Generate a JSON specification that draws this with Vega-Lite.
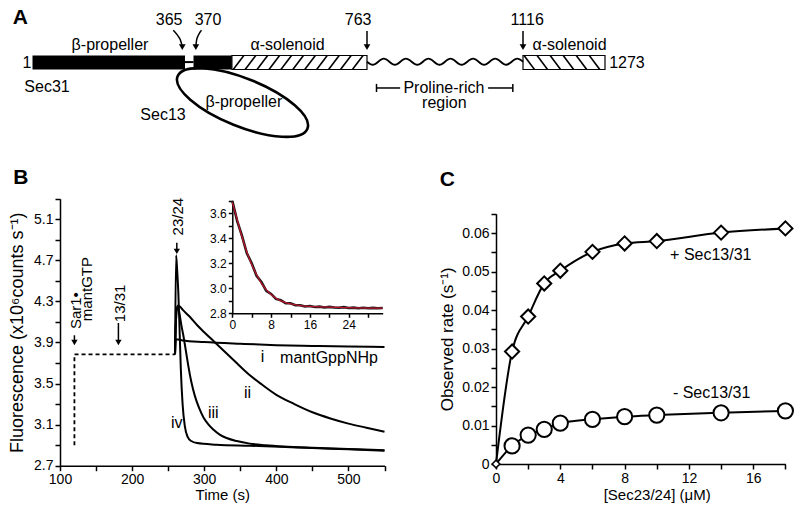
{
"$schema": "https://vega.github.io/schema/vega-lite/v6.json",
"width": 800, "height": 515, "autosize": {"type": "none"}, "padding": 0, "background": "white",
"config": {
  "view": {"stroke": null},
  "font": "Liberation Sans",
  "axis": {"labelFont": "Liberation Sans", "titleFont": "Liberation Sans", "labelColor": "#000", "titleColor": "#000", "domainColor": "#000", "tickColor": "#000", "domainWidth": 1.5, "tickWidth": 1.5, "tickSize": 5, "labelPadding": 2, "titleFontWeight": "normal", "grid": false, "labelFlush": false, "labelOverlap": false, "labelFontSize": 14},
  "text": {"font": "Liberation Sans", "fontSize": 16, "color": "#000"}
},
"datasets": {
  "aBlocks": [{"x": 1, "x2": 365, "y": -0.5, "y2": 0.5}, {"x": 370, "x2": 457, "y": -0.5, "y2": 0.5}],
  "aLink": [{"x": 365, "x2": 370, "y": 0.03}],
  "aHatch": [{"x": 457, "x2": 763, "y": -0.5, "y2": 0.5}, {"x": 1116, "x2": 1273, "y": -0.5, "y2": 0.5}],
  "aSlash": [{"x": 460, "x2": 484, "y": -0.5, "y2": 0.5}, {"x": 487, "x2": 511, "y": -0.5, "y2": 0.5}, {"x": 514, "x2": 538, "y": -0.5, "y2": 0.5}, {"x": 541, "x2": 565, "y": -0.5, "y2": 0.5}, {"x": 568, "x2": 592, "y": -0.5, "y2": 0.5}, {"x": 595, "x2": 619, "y": -0.5, "y2": 0.5}, {"x": 622, "x2": 646, "y": -0.5, "y2": 0.5}, {"x": 649, "x2": 673, "y": -0.5, "y2": 0.5}, {"x": 676, "x2": 700, "y": -0.5, "y2": 0.5}, {"x": 703, "x2": 727, "y": -0.5, "y2": 0.5}, {"x": 730, "x2": 754, "y": -0.5, "y2": 0.5}],
  "aBack": [{"x": 1118, "x2": 1138, "y": 0.5, "y2": -0.5}, {"x": 1143, "x2": 1163, "y": 0.5, "y2": -0.5}, {"x": 1168, "x2": 1188, "y": 0.5, "y2": -0.5}, {"x": 1193, "x2": 1213, "y": 0.5, "y2": -0.5}, {"x": 1218, "x2": 1238, "y": 0.5, "y2": -0.5}, {"x": 1243, "x2": 1263, "y": 0.5, "y2": -0.5}],
  "aWave": [{"x": 763, "y": 0.06}, {"x": 776, "y": -0.16}, {"x": 801, "y": 0.28}, {"x": 826, "y": -0.16}, {"x": 851, "y": 0.28}, {"x": 877, "y": -0.16}, {"x": 902, "y": 0.28}, {"x": 927, "y": -0.16}, {"x": 952, "y": 0.28}, {"x": 977, "y": -0.16}, {"x": 1003, "y": 0.28}, {"x": 1028, "y": -0.16}, {"x": 1053, "y": 0.28}, {"x": 1078, "y": -0.16}, {"x": 1103, "y": 0.28}, {"x": 1116, "y": 0.06}],
  "aArrow": [{"x": 763, "y": 2.25, "y2": 1.15}, {"x": 1116, "y": 2.25, "y2": 1.15}],
  "aCurve": [{"k": "a", "x": 337, "y": 2.3}, {"k": "a", "x": 347, "y": 1.95}, {"k": "a", "x": 354, "y": 1.6}, {"k": "a", "x": 358, "y": 1.2}, {"k": "b", "x": 388, "y": 2.3}, {"k": "b", "x": 381, "y": 1.95}, {"k": "b", "x": 377, "y": 1.6}, {"k": "b", "x": 375.5, "y": 1.2}],
  "aHeads": [{"x": 763, "y": 1.1}, {"x": 1116, "y": 1.1}, {"x": 358.5, "y": 1.1}, {"x": 375.3, "y": 1.1}],
  "aEllipse": [{"x": 481, "y": -2.857}],
  "aBracket": [{"x": 784.5, "x2": 838, "y": -1.82}, {"x": 1037, "x2": 1093, "y": -1.82}],
  "aBracketEnds": [{"x": 784.5, "y": -1.53, "y2": -2.11}, {"x": 1093, "y": -1.53, "y2": -2.11}],
  "aText": [
    {"x": -12, "y": -0.05, "t": "1"},
    {"x": 1315, "y": -0.05, "t": "1273"},
    {"x": 186, "y": 1.25, "t": "β-propeller"},
    {"x": 583, "y": 1.25, "t": "α-solenoid"},
    {"x": 1205, "y": 1.25, "t": "α-solenoid"},
    {"x": 327, "y": 3.04, "t": "365"},
    {"x": 403, "y": 3.04, "t": "370"},
    {"x": 743, "y": 3.04, "t": "763"},
    {"x": 1124, "y": 3.04, "t": "1116"},
    {"x": 35.6, "y": -1.77, "t": "Sec31"},
    {"x": 312.5, "y": -3.75, "t": "Sec13"},
    {"x": 484, "y": -2.84, "t": "β-propeller"},
    {"x": 937, "y": -1.8, "t": "Proline-rich"},
    {"x": 938, "y": -2.9, "t": "region"}
  ],
  "aLetter": [{"x": -28, "y": 3.21, "t": "A"}],
  "bDash": [{"t": 120, "v": 2.9}, {"t": 120, "v": 3.785}, {"t": 259.5, "v": 3.785}],
  "bCurves": [
    {"c": "i", "t": 259.5, "v": 3.785}, {"c": "i", "t": 260.5, "v": 3.93}, {"c": "i", "t": 264, "v": 3.93}, {"c": "i", "t": 270, "v": 3.92}, {"c": "i", "t": 300, "v": 3.905}, {"c": "i", "t": 350, "v": 3.888}, {"c": "i", "t": 400, "v": 3.874}, {"c": "i", "t": 450, "v": 3.866}, {"c": "i", "t": 500, "v": 3.86}, {"c": "i", "t": 550, "v": 3.856},
    {"c": "ii", "t": 259.5, "v": 3.785}, {"c": "ii", "t": 261.5, "v": 4.2}, {"c": "ii", "t": 263.5, "v": 4.26}, {"c": "ii", "t": 267, "v": 4.245}, {"c": "ii", "t": 270, "v": 4.22}, {"c": "ii", "t": 280, "v": 4.15}, {"c": "ii", "t": 290, "v": 4.07}, {"c": "ii", "t": 300, "v": 4.0}, {"c": "ii", "t": 315, "v": 3.9}, {"c": "ii", "t": 330, "v": 3.8}, {"c": "ii", "t": 345, "v": 3.7}, {"c": "ii", "t": 360, "v": 3.6}, {"c": "ii", "t": 380, "v": 3.49}, {"c": "ii", "t": 400, "v": 3.39}, {"c": "ii", "t": 425, "v": 3.3}, {"c": "ii", "t": 450, "v": 3.22}, {"c": "ii", "t": 475, "v": 3.16}, {"c": "ii", "t": 500, "v": 3.11}, {"c": "ii", "t": 525, "v": 3.07}, {"c": "ii", "t": 550, "v": 3.03},
    {"c": "iii", "t": 259.5, "v": 3.785}, {"c": "iii", "t": 261.5, "v": 4.2}, {"c": "iii", "t": 263.5, "v": 4.25}, {"c": "iii", "t": 265.5, "v": 4.19}, {"c": "iii", "t": 268, "v": 4.08}, {"c": "iii", "t": 271, "v": 3.97}, {"c": "iii", "t": 275, "v": 3.8}, {"c": "iii", "t": 278, "v": 3.67}, {"c": "iii", "t": 282, "v": 3.52}, {"c": "iii", "t": 287, "v": 3.38}, {"c": "iii", "t": 293, "v": 3.26}, {"c": "iii", "t": 299, "v": 3.17}, {"c": "iii", "t": 306, "v": 3.1}, {"c": "iii", "t": 313, "v": 3.05}, {"c": "iii", "t": 322, "v": 3.0}, {"c": "iii", "t": 331, "v": 2.97}, {"c": "iii", "t": 345, "v": 2.94}, {"c": "iii", "t": 363, "v": 2.915}, {"c": "iii", "t": 385, "v": 2.9}, {"c": "iii", "t": 410, "v": 2.888}, {"c": "iii", "t": 450, "v": 2.875}, {"c": "iii", "t": 500, "v": 2.862}, {"c": "iii", "t": 550, "v": 2.85},
    {"c": "iv", "t": 259.5, "v": 3.785}, {"c": "iv", "t": 261, "v": 4.75}, {"c": "iv", "t": 262.5, "v": 4.6}, {"c": "iv", "t": 264, "v": 4.4}, {"c": "iv", "t": 265.5, "v": 4.1}, {"c": "iv", "t": 267.5, "v": 3.65}, {"c": "iv", "t": 270, "v": 3.3}, {"c": "iv", "t": 273, "v": 3.09}, {"c": "iv", "t": 277, "v": 2.98}, {"c": "iv", "t": 282, "v": 2.94}, {"c": "iv", "t": 290, "v": 2.92}, {"c": "iv", "t": 317, "v": 2.905}, {"c": "iv", "t": 363, "v": 2.895}, {"c": "iv", "t": 405, "v": 2.885}, {"c": "iv", "t": 450, "v": 2.872}, {"c": "iv", "t": 500, "v": 2.86}, {"c": "iv", "t": 550, "v": 2.845}
  ],
  "bArrows": [{"t": 120, "v": 3.97, "v2": 3.9}, {"t": 181, "v": 4.09, "v2": 3.9}, {"t": 262, "v": 4.87, "v2": 4.8}],
  "bHeads": [{"t": 120, "v": 3.9}, {"t": 181, "v": 3.9}, {"t": 262, "v": 4.787}],
  "bLabels": [{"t": 380.8, "v": 3.754, "s": "i"}, {"t": 473, "v": 3.75, "s": "mantGppNHp"}, {"t": 360, "v": 3.405, "s": "ii"}, {"t": 312.6, "v": 3.21, "s": "iii"}, {"t": 261.8, "v": 3.113, "s": "iv"}],
  "bRot": [{"t": 121.5, "v": 4.21, "s": "Sar1•"}, {"t": 137, "v": 4.42, "s": "mantGTP"}, {"t": 183, "v": 4.28, "s": "13/31"}, {"t": 264, "v": 5.125, "s": "23/24"}],
  "bLetter": [{"t": 45.6, "v": 5.5, "s": "B"}],
  "inData": [{"t": 0, "v": 3.7}, {"t": 1, "v": 3.54}, {"t": 2, "v": 3.42}, {"t": 3, "v": 3.28}, {"t": 4, "v": 3.2}, {"t": 5, "v": 3.1}, {"t": 6, "v": 3.05}, {"t": 7, "v": 2.98}, {"t": 8, "v": 2.955}, {"t": 9, "v": 2.915}, {"t": 10, "v": 2.905}, {"t": 11, "v": 2.88}, {"t": 12, "v": 2.88}, {"t": 13, "v": 2.865}, {"t": 14, "v": 2.865}, {"t": 15, "v": 2.855}, {"t": 16, "v": 2.858}, {"t": 17, "v": 2.85}, {"t": 18, "v": 2.853}, {"t": 19, "v": 2.847}, {"t": 20, "v": 2.851}, {"t": 21, "v": 2.846}, {"t": 22, "v": 2.844}, {"t": 23, "v": 2.849}, {"t": 24, "v": 2.843}, {"t": 25, "v": 2.845}, {"t": 26, "v": 2.84}, {"t": 27, "v": 2.844}, {"t": 28, "v": 2.841}, {"t": 29, "v": 2.843}, {"t": 30, "v": 2.84}, {"t": 31, "v": 2.842}],
  "inFit": [{"t": 0, "v": 3.69}, {"t": 0.5, "v": 3.62}, {"t": 1, "v": 3.55}, {"t": 2, "v": 3.41}, {"t": 3, "v": 3.29}, {"t": 4, "v": 3.19}, {"t": 5, "v": 3.11}, {"t": 6, "v": 3.04}, {"t": 7, "v": 2.99}, {"t": 8, "v": 2.95}, {"t": 9, "v": 2.92}, {"t": 10, "v": 2.9}, {"t": 11, "v": 2.885}, {"t": 12, "v": 2.875}, {"t": 14, "v": 2.862}, {"t": 16, "v": 2.855}, {"t": 18, "v": 2.852}, {"t": 20, "v": 2.849}, {"t": 22, "v": 2.847}, {"t": 24, "v": 2.845}, {"t": 26, "v": 2.843}, {"t": 28, "v": 2.842}, {"t": 31, "v": 2.842}],
  "cPlus": [{"x": 0, "r": 0}, {"x": 1, "r": 0.0292}, {"x": 2, "r": 0.0383}, {"x": 3, "r": 0.0469}, {"x": 4, "r": 0.0502}, {"x": 6, "r": 0.0551}, {"x": 8, "r": 0.0573}, {"x": 10, "r": 0.0579}, {"x": 14, "r": 0.0601}, {"x": 18, "r": 0.0612}],
  "cMinus": [{"x": 0, "r": 0}, {"x": 1, "r": 0.0047}, {"x": 2, "r": 0.0075}, {"x": 3, "r": 0.009}, {"x": 4, "r": 0.0106}, {"x": 6, "r": 0.0116}, {"x": 8, "r": 0.0123}, {"x": 10, "r": 0.0127}, {"x": 14, "r": 0.0133}, {"x": 18, "r": 0.0138}],
  "cLabels": [{"x": 13.36, "r": 0.0543, "s": "+ Sec13/31"}, {"x": 13.41, "r": 0.01852, "s": "- Sec13/31"}],
  "cLetter": [{"x": -3.02, "r": 0.0738, "s": "C"}]
},
"layer": [
  {
    "encoding": {
      "x": {"field": "x", "type": "quantitative", "axis": null, "scale": {"domain": [1, 365, 370, 763, 1116, 1273], "range": [32.5, 185, 193.5, 367, 523, 605], "nice": false, "zero": false}},
      "y": {"field": "y", "type": "quantitative", "axis": null, "scale": {"domain": [-6, 4.5], "range": [146.5, -0.5], "nice": false, "zero": false}}
    },
    "layer": [
      {"data": {"name": "aBlocks"}, "mark": {"type": "rect", "color": "#000"}, "encoding": {"x2": {"field": "x2"}, "y2": {"field": "y2"}}},
      {"data": {"name": "aLink"}, "mark": {"type": "rule", "color": "#000", "strokeWidth": 2}, "encoding": {"x2": {"field": "x2"}}},
      {"data": {"name": "aHatch"}, "mark": {"type": "rect", "fill": "#fff", "stroke": "#000", "strokeWidth": 1.2}, "encoding": {"x2": {"field": "x2"}, "y2": {"field": "y2"}}},
      {"data": {"name": "aSlash"}, "mark": {"type": "rule", "color": "#000", "strokeWidth": 1.6}, "encoding": {"x2": {"field": "x2"}, "y2": {"field": "y2"}}},
      {"data": {"name": "aBack"}, "mark": {"type": "rule", "color": "#000", "strokeWidth": 1.6}, "encoding": {"x2": {"field": "x2"}, "y2": {"field": "y2"}}},
      {"data": {"name": "aWave"}, "mark": {"type": "line", "color": "#000", "strokeWidth": 1.9, "interpolate": "monotone"}},
      {"data": {"name": "aArrow"}, "mark": {"type": "rule", "color": "#000", "strokeWidth": 1.5}, "encoding": {"y2": {"field": "y2"}}},
      {"data": {"name": "aCurve"}, "mark": {"type": "line", "color": "#000", "strokeWidth": 1.5, "interpolate": "monotone"}, "encoding": {"detail": {"field": "k"}}},
      {"data": {"name": "aHeads"}, "mark": {"type": "point", "shape": "triangle-down", "filled": true, "color": "#000", "size": 45, "opacity": 1}},
      {"data": {"name": "aEllipse"}, "mark": {"type": "point", "shape": "M -1 0 C -1 -0.1894 -0.5523 -0.343 0 -0.343 C 0.5523 -0.343 1 -0.1894 1 0 C 1 0.1894 0.5523 0.343 0 0.343 C -0.5523 0.343 -1 0.1894 -1 0 Z", "size": 19600, "angle": 22, "filled": false, "stroke": "#000", "strokeWidth": 2.6, "opacity": 1}},
      {"data": {"name": "aBracket"}, "mark": {"type": "rule", "color": "#000", "strokeWidth": 1.5}, "encoding": {"x2": {"field": "x2"}}},
      {"data": {"name": "aBracketEnds"}, "mark": {"type": "rule", "color": "#000", "strokeWidth": 1.5}, "encoding": {"y2": {"field": "y2"}}},
      {"data": {"name": "aText"}, "mark": {"type": "text", "fontSize": 16}, "encoding": {"text": {"field": "t"}}},
      {"data": {"name": "aLetter"}, "mark": {"type": "text", "fontSize": 21, "fontWeight": "bold"}, "encoding": {"text": {"field": "t"}}}
    ]
  },
  {
    "encoding": {
      "x": {"field": "t", "type": "quantitative", "scale": {"domain": [100, 550], "range": [60, 384.5], "nice": false, "zero": false},
        "axis": {"orient": "bottom", "offset": -49.3, "values": [100, 150, 200, 250, 300, 350, 400, 450, 500, 550], "labelExpr": "datum.value % 100 == 0 ? datum.label : ''", "title": "Time (s)", "titleFontSize": 15, "titlePadding": 1}},
      "y": {"field": "v", "type": "quantitative", "scale": {"domain": [2.7, 5.3], "range": [465.7, 198.7], "nice": false, "zero": false},
        "axis": {"orient": "left", "offset": -60, "values": [2.7, 2.9, 3.1, 3.3, 3.5, 3.7, 3.9, 4.1, 4.3, 4.5, 4.7, 4.9, 5.1, 5.3], "labelExpr": "(round(datum.value*10) - 27) % 4 == 0 ? format(datum.value, '.1f') : ''", "title": "Fluorescence (x10⁶counts  s⁻¹)", "titleFontSize": 18, "titlePadding": 7}}
    },
    "layer": [
      {"data": {"name": "bDash"}, "mark": {"type": "line", "color": "#000", "strokeWidth": 1.8, "strokeDash": [4, 3]}},
      {"data": {"name": "bCurves"}, "mark": {"type": "line", "color": "#000", "strokeWidth": 2, "interpolate": "monotone"}, "encoding": {"detail": {"field": "c"}}},
      {"data": {"name": "bArrows"}, "mark": {"type": "rule", "color": "#000", "strokeWidth": 1.5}, "encoding": {"y2": {"field": "v2"}}},
      {"data": {"name": "bHeads"}, "mark": {"type": "point", "shape": "triangle-down", "filled": true, "color": "#000", "size": 40, "opacity": 1}},
      {"data": {"name": "bLabels"}, "mark": {"type": "text", "fontSize": 16}, "encoding": {"text": {"field": "s"}}},
      {"data": {"name": "bRot"}, "mark": {"type": "text", "fontSize": 15, "angle": 270}, "encoding": {"text": {"field": "s"}}},
      {"data": {"name": "bLetter"}, "mark": {"type": "text", "fontSize": 21, "fontWeight": "bold"}, "encoding": {"text": {"field": "s"}}}
    ]
  },
  {
    "encoding": {
      "x": {"field": "t", "type": "quantitative", "scale": {"domain": [0, 31], "range": [232.3, 382.7], "nice": false, "zero": false},
        "axis": {"orient": "bottom", "offset": -201.7, "values": [0, 4, 8, 12, 16, 20, 24, 28], "labelExpr": "datum.value % 8 == 0 ? datum.label : ''", "title": null, "labelFontSize": 12, "tickSize": 4}},
      "y": {"field": "v", "type": "quantitative", "scale": {"domain": [2.8, 3.7], "range": [313.3, 200.8], "nice": false, "zero": false},
        "axis": {"orient": "left", "offset": -232.3, "values": [2.8, 2.9, 3.0, 3.1, 3.2, 3.3, 3.4, 3.5, 3.6, 3.7], "labelExpr": "round(datum.value*10) % 2 == 0 ? format(datum.value, '.1f') : ''", "title": null, "labelFontSize": 12, "tickSize": 4}}
    },
    "layer": [
      {"data": {"name": "inData"}, "mark": {"type": "line", "color": "#1a1a1a", "strokeWidth": 2.6}},
      {"data": {"name": "inFit"}, "mark": {"type": "line", "color": "#b8142c", "strokeWidth": 1.3, "interpolate": "monotone"}}
    ]
  },
  {
    "encoding": {
      "x": {"field": "x", "type": "quantitative", "scale": {"domain": [0, 18], "range": [496, 785.4], "nice": false, "zero": false},
        "axis": {"orient": "bottom", "offset": -51, "values": [0, 2, 4, 6, 8, 10, 12, 14, 16, 18], "labelExpr": "datum.value % 4 == 0 ? datum.label : ''", "title": "[Sec23/24]  (μM)", "titleFontSize": 15, "titlePadding": 2, "titleX": 656.7}},
      "y": {"field": "r", "type": "quantitative", "scale": {"domain": [0, 0.065], "range": [464, 213.75], "nice": false, "zero": false},
        "axis": {"orient": "left", "offset": -496, "values": [0, 0.005, 0.01, 0.015, 0.02, 0.025, 0.03, 0.035, 0.04, 0.045, 0.05, 0.055, 0.06, 0.065], "labelExpr": "round(datum.value*1000) % 10 == 0 ? (datum.value == 0 ? '0' : format(datum.value, '.2f')) : ''", "title": "Observed rate (s⁻¹)", "titleFontSize": 17, "titlePadding": 5}}
    },
    "layer": [
      {"data": {"name": "cPlus"}, "mark": {"type": "line", "color": "#000", "strokeWidth": 2, "interpolate": "monotone"}},
      {"data": {"name": "cMinus"}, "mark": {"type": "line", "color": "#000", "strokeWidth": 2, "interpolate": "monotone"}},
      {"data": {"name": "cPlus"}, "transform": [{"filter": "datum.x > 0"}], "mark": {"type": "point", "shape": "diamond", "filled": true, "fill": "#fff", "stroke": "#000", "strokeWidth": 2, "size": 200, "opacity": 1}},
      {"data": {"name": "cMinus"}, "transform": [{"filter": "datum.x > 0"}], "mark": {"type": "point", "shape": "circle", "filled": true, "fill": "#fff", "stroke": "#000", "strokeWidth": 2, "size": 230, "opacity": 1}},
      {"data": {"name": "cPlus"}, "transform": [{"filter": "datum.x == 0"}], "mark": {"type": "point", "shape": "diamond", "filled": true, "fill": "#fff", "stroke": "#000", "strokeWidth": 1.5, "size": 60, "opacity": 1}},
      {"data": {"name": "cLabels"}, "mark": {"type": "text", "fontSize": 16}, "encoding": {"text": {"field": "s"}}},
      {"data": {"name": "cLetter"}, "mark": {"type": "text", "fontSize": 21, "fontWeight": "bold"}, "encoding": {"text": {"field": "s"}}}
    ]
  }
],
"resolve": {"scale": {"x": "independent", "y": "independent"}, "axis": {"x": "independent", "y": "independent"}}
}
